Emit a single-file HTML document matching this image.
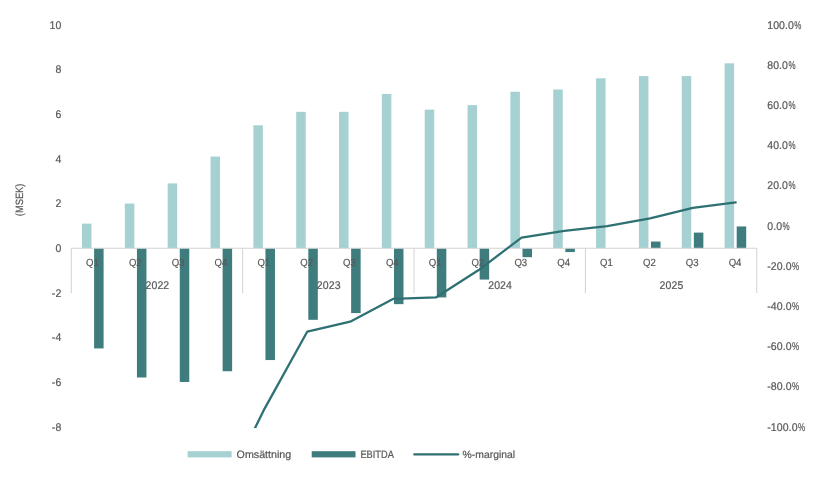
<!DOCTYPE html>
<html lang="sv"><head><meta charset="utf-8"><title>Omsättning, EBITDA och %-marginal</title>
<style>html,body{margin:0;padding:0;background:#fff}body{width:820px;height:493px;overflow:hidden}svg{display:block}text{font-family:'Liberation Sans', Arial, sans-serif;fill:#595959;text-rendering:geometricPrecision;stroke:#595959;stroke-width:0.22px}</style></head><body>
<svg width="820" height="493" viewBox="0 0 820 493">
<rect width="820" height="493" fill="#fff"/>
<defs><clipPath id="plot"><rect x="71.3" y="20" width="685.4" height="408.0"/></clipPath></defs>
<g fill="#a5d1d3">
<rect x="82.00" y="223.65" width="9.50" height="24.60"/>
<rect x="124.84" y="203.53" width="9.50" height="44.72"/>
<rect x="167.68" y="183.41" width="9.50" height="64.84"/>
<rect x="210.52" y="156.57" width="9.50" height="91.68"/>
<rect x="253.36" y="125.27" width="9.50" height="122.98"/>
<rect x="296.20" y="111.85" width="9.50" height="136.40"/>
<rect x="339.04" y="111.85" width="9.50" height="136.40"/>
<rect x="381.88" y="93.97" width="9.50" height="154.28"/>
<rect x="424.72" y="109.62" width="9.50" height="138.63"/>
<rect x="467.56" y="105.15" width="9.50" height="143.10"/>
<rect x="510.40" y="91.73" width="9.50" height="156.52"/>
<rect x="553.24" y="89.49" width="9.50" height="158.76"/>
<rect x="596.08" y="78.31" width="9.50" height="169.94"/>
<rect x="638.92" y="76.08" width="9.50" height="172.17"/>
<rect x="681.76" y="76.08" width="9.50" height="172.17"/>
<rect x="724.60" y="63.33" width="9.50" height="184.92"/>
</g>
<g fill="#3f7c7d">
<rect x="94.10" y="248.25" width="9.50" height="100.17"/>
<rect x="136.94" y="248.25" width="9.50" height="129.24"/>
<rect x="179.78" y="248.25" width="9.50" height="133.71"/>
<rect x="222.62" y="248.25" width="9.50" height="122.98"/>
<rect x="265.46" y="248.25" width="9.50" height="111.80"/>
<rect x="308.30" y="248.25" width="9.50" height="71.55"/>
<rect x="351.14" y="248.25" width="9.50" height="64.84"/>
<rect x="393.98" y="248.25" width="9.50" height="55.90"/>
<rect x="436.82" y="248.25" width="9.50" height="49.19"/>
<rect x="479.66" y="248.25" width="9.50" height="31.30"/>
<rect x="522.50" y="248.25" width="9.50" height="8.94"/>
<rect x="565.34" y="248.25" width="9.50" height="3.80"/>
<rect x="651.02" y="241.54" width="9.50" height="6.71"/>
<rect x="693.86" y="232.60" width="9.50" height="15.65"/>
<rect x="736.70" y="226.45" width="9.50" height="21.80"/>
</g>
<g stroke="#d3d3d3" stroke-width="1" fill="none">
<path d="M70.80 248.25H757.24"/>
<path d="M71.30 248.25V293.20"/>
<path d="M242.66 248.25V293.20"/>
<path d="M414.02 248.25V293.20"/>
<path d="M585.38 248.25V293.20"/>
<path d="M756.74 248.25V293.20"/>
</g>
<path d="M221.64 495.73 L264.48 408.83 L307.32 331.54 L350.16 321.66 L393.00 298.93 L435.84 297.42 L478.68 270.07 L521.52 237.59 L564.36 230.91 L607.20 226.10 L650.04 218.27 L692.88 207.83 L735.72 202.40" fill="none" stroke="#2f7173" stroke-width="2.3" stroke-linejoin="round" stroke-linecap="round" clip-path="url(#plot)"/>
<text transform="translate(92.42 266.00) scale(0.920 1)" font-size="10.40" text-anchor="middle">Q1</text>
<text transform="translate(135.26 266.00) scale(0.920 1)" font-size="10.40" text-anchor="middle">Q2</text>
<text transform="translate(178.10 266.00) scale(0.920 1)" font-size="10.40" text-anchor="middle">Q3</text>
<text transform="translate(220.94 266.00) scale(0.920 1)" font-size="10.40" text-anchor="middle">Q4</text>
<text transform="translate(263.78 266.00) scale(0.920 1)" font-size="10.40" text-anchor="middle">Q1</text>
<text transform="translate(306.62 266.00) scale(0.920 1)" font-size="10.40" text-anchor="middle">Q2</text>
<text transform="translate(349.46 266.00) scale(0.920 1)" font-size="10.40" text-anchor="middle">Q3</text>
<text transform="translate(392.30 266.00) scale(0.920 1)" font-size="10.40" text-anchor="middle">Q4</text>
<text transform="translate(435.14 266.00) scale(0.920 1)" font-size="10.40" text-anchor="middle">Q1</text>
<text transform="translate(477.98 266.00) scale(0.920 1)" font-size="10.40" text-anchor="middle">Q2</text>
<text transform="translate(520.82 266.00) scale(0.920 1)" font-size="10.40" text-anchor="middle">Q3</text>
<text transform="translate(563.66 266.00) scale(0.920 1)" font-size="10.40" text-anchor="middle">Q4</text>
<text transform="translate(606.50 266.00) scale(0.920 1)" font-size="10.40" text-anchor="middle">Q1</text>
<text transform="translate(649.34 266.00) scale(0.920 1)" font-size="10.40" text-anchor="middle">Q2</text>
<text transform="translate(692.18 266.00) scale(0.920 1)" font-size="10.40" text-anchor="middle">Q3</text>
<text transform="translate(735.02 266.00) scale(0.920 1)" font-size="10.40" text-anchor="middle">Q4</text>
<text transform="translate(157.38 289.40) scale(0.940 1)" font-size="11.20" text-anchor="middle" letter-spacing="0.10">2022</text>
<text transform="translate(328.74 289.40) scale(0.940 1)" font-size="11.20" text-anchor="middle" letter-spacing="0.10">2023</text>
<text transform="translate(500.10 289.40) scale(0.940 1)" font-size="11.20" text-anchor="middle" letter-spacing="0.10">2024</text>
<text transform="translate(671.46 289.40) scale(0.940 1)" font-size="11.20" text-anchor="middle" letter-spacing="0.10">2025</text>
<text transform="translate(61.40 28.50) scale(0.940 1)" font-size="11.20" text-anchor="end" letter-spacing="0.10">10</text>
<text transform="translate(61.40 73.20) scale(0.940 1)" font-size="11.20" text-anchor="end" letter-spacing="0.10">8</text>
<text transform="translate(61.40 117.90) scale(0.940 1)" font-size="11.20" text-anchor="end" letter-spacing="0.10">6</text>
<text transform="translate(61.40 162.60) scale(0.940 1)" font-size="11.20" text-anchor="end" letter-spacing="0.10">4</text>
<text transform="translate(61.40 207.30) scale(0.940 1)" font-size="11.20" text-anchor="end" letter-spacing="0.10">2</text>
<text transform="translate(61.40 252.00) scale(0.940 1)" font-size="11.20" text-anchor="end" letter-spacing="0.10">0</text>
<text transform="translate(61.40 296.70) scale(0.940 1)" font-size="11.20" text-anchor="end" letter-spacing="0.10">-2</text>
<text transform="translate(61.40 341.40) scale(0.940 1)" font-size="11.20" text-anchor="end" letter-spacing="0.10">-4</text>
<text transform="translate(61.40 386.10) scale(0.940 1)" font-size="11.20" text-anchor="end" letter-spacing="0.10">-6</text>
<text transform="translate(61.40 430.80) scale(0.940 1)" font-size="11.20" text-anchor="end" letter-spacing="0.10">-8</text>
<text transform="translate(767.20 28.50) scale(0.940 1)" font-size="11.20" letter-spacing="0.10">100.0<tspan dx="0.37" textLength="7.63" lengthAdjust="spacingAndGlyphs">%</tspan></text>
<text transform="translate(767.20 68.70) scale(0.940 1)" font-size="11.20" letter-spacing="0.10">80.0<tspan dx="0.37" textLength="7.63" lengthAdjust="spacingAndGlyphs">%</tspan></text>
<text transform="translate(767.20 108.90) scale(0.940 1)" font-size="11.20" letter-spacing="0.10">60.0<tspan dx="0.37" textLength="7.63" lengthAdjust="spacingAndGlyphs">%</tspan></text>
<text transform="translate(767.20 149.10) scale(0.940 1)" font-size="11.20" letter-spacing="0.10">40.0<tspan dx="0.37" textLength="7.63" lengthAdjust="spacingAndGlyphs">%</tspan></text>
<text transform="translate(767.20 189.30) scale(0.940 1)" font-size="11.20" letter-spacing="0.10">20.0<tspan dx="0.37" textLength="7.63" lengthAdjust="spacingAndGlyphs">%</tspan></text>
<text transform="translate(767.20 229.50) scale(0.940 1)" font-size="11.20" letter-spacing="0.10">0.0<tspan dx="0.37" textLength="7.63" lengthAdjust="spacingAndGlyphs">%</tspan></text>
<text transform="translate(767.20 269.70) scale(0.940 1)" font-size="11.20" letter-spacing="0.10">-20.0<tspan dx="0.37" textLength="7.63" lengthAdjust="spacingAndGlyphs">%</tspan></text>
<text transform="translate(767.20 309.90) scale(0.940 1)" font-size="11.20" letter-spacing="0.10">-40.0<tspan dx="0.37" textLength="7.63" lengthAdjust="spacingAndGlyphs">%</tspan></text>
<text transform="translate(767.20 350.10) scale(0.940 1)" font-size="11.20" letter-spacing="0.10">-60.0<tspan dx="0.37" textLength="7.63" lengthAdjust="spacingAndGlyphs">%</tspan></text>
<text transform="translate(767.20 390.30) scale(0.940 1)" font-size="11.20" letter-spacing="0.10">-80.0<tspan dx="0.37" textLength="7.63" lengthAdjust="spacingAndGlyphs">%</tspan></text>
<text transform="translate(767.20 430.50) scale(0.940 1)" font-size="11.20" letter-spacing="0.10">-100.0<tspan dx="0.37" textLength="7.63" lengthAdjust="spacingAndGlyphs">%</tspan></text>
<text font-size="10.60" text-anchor="middle" transform="translate(22.50 199.90) rotate(-90) scale(0.880 1)">(MSEK)</text>
<rect x="187.6" y="451.2" width="44" height="6.2" fill="#a5d1d3"/>
<text transform="translate(236.60 458.40) scale(1.000 1)" font-size="10.70">Omsättning</text>
<rect x="311.7" y="451.2" width="43.8" height="6.2" fill="#3f7c7d"/>
<text transform="translate(360.40 458.40) scale(0.875 1)" font-size="10.60">EBITDA</text>
<path d="M414.3 454.45H458.2" stroke="#2f7173" stroke-width="2.3" stroke-linecap="round" fill="none"/>
<text transform="translate(462.60 458.40) scale(1.000 1)" font-size="10.40">%-marginal</text>
</svg></body></html>
